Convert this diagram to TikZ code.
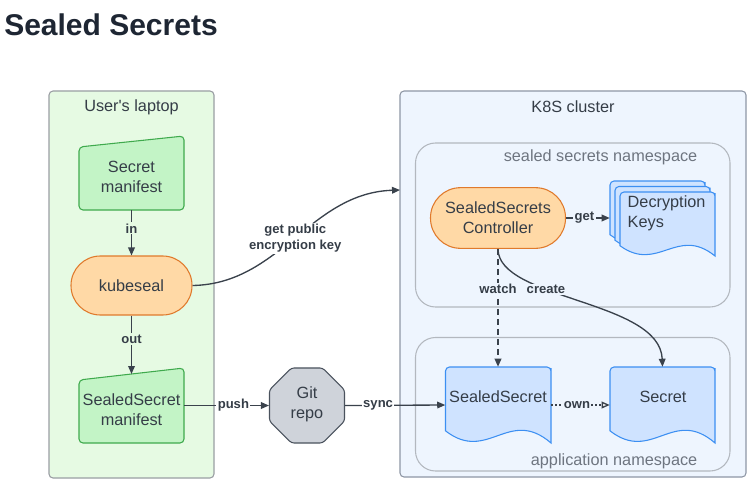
\documentclass[tikz,border=0pt]{standalone}
\usepackage{fontspec}
\setmainfont{Liberation Sans}
\usetikzlibrary{arrows.meta,shapes.geometric,fit}

\definecolor{txt}{HTML}{353D47}
\definecolor{arr}{HTML}{3A424C}
\definecolor{lapfill}{HTML}{E6FAE3}
\definecolor{lapline}{HTML}{9A9EA3}
\definecolor{grfill}{HTML}{C3F4C6}
\definecolor{grline}{HTML}{3FAA4D}
\definecolor{orfill}{HTML}{FFD9A6}
\definecolor{orline}{HTML}{E07A2C}
\definecolor{kfill}{HTML}{EEF5FE}
\definecolor{kline}{HTML}{8E97A5}
\definecolor{nsline}{HTML}{B3B8BF}
\definecolor{blfill}{HTML}{CFE3FF}
\definecolor{blline}{HTML}{3C8FF2}
\definecolor{gitfill}{HTML}{CFD3DA}
\definecolor{gitline}{HTML}{4A525D}
\definecolor{titlec}{HTML}{1E2633}
\definecolor{nstext}{HTML}{6E7580}

\newcommand{\docpath}[5]{%
  \draw[#1] ({#2},{#5-0.16*(#5-#3)}) -- ({#2},{#3+5}) [rounded corners=3pt] -- ({#2},{#3}) -- ({#4},{#3}) -- ({#4},{#3+5}) [sharp corners] -- ({#4},{#5})
   .. controls ({#2+0.6*(#4-#2)},{#5-0.48*(#5-#3)}) and ({#2+0.4*(#4-#2)},{#5+0.27*(#5-#3)}) .. ({#2},{#5-0.16*(#5-#3)}) -- cycle;}

\tikzset{
  body/.style={font=\fontsize{12.2pt}{15pt}\selectfont, text=txt, align=center},
  lbl/.style={font=\fontsize{9.8pt}{12pt}\selectfont\bfseries, text=txt, inner sep=1pt, align=center},
  conn/.style={draw=arr, line width=1pt, -{Triangle[length=6pt,width=5pt]}},
  greenbox/.style={draw=grline, fill=grfill, line width=0.8pt, rounded corners=3pt},
  bluedoc/.style={draw=blline, fill=blfill, line width=0.8pt},
  fitbox/.style={inner sep=0pt},
}

\begin{document}
\begin{tikzpicture}[x=0.75pt,y=-0.75pt]
\useasboundingbox (0,0) rectangle (748,481);
\fill[white] (0,0) rectangle (748,481);

% title
\node[anchor=west, inner sep=0pt, font=\fontsize{22.5pt}{26pt}\selectfont\bfseries, text=titlec] (title) at (4,24.5) {Sealed Secrets};

% containers
\node[fit={(49,91) (214,478)}, fitbox, draw=lapline, fill=lapfill, line width=0.8pt, rounded corners=3pt] (laptop) {};
\node[body] (laptoplbl) at (131.5,107) {User\textquotesingle s laptop};

\node[fit={(400,91) (746,477)}, fitbox, draw=kline, fill=kfill, line width=0.8pt, rounded corners=3pt] (k8s) {};
\node[body] (k8slbl) at (573,107) {K8S cluster};

\node[fit={(415.5,143) (730,307)}, fitbox, draw=nsline, line width=0.8pt, rounded corners=15pt] (ssns) {};
\node[body, text=nstext, anchor=east] (ssnslbl) at (702,157) {sealed secrets namespace};

\node[fit={(415.5,337.5) (730,471)}, fitbox, draw=nsline, line width=0.8pt, rounded corners=15pt] (appns) {};
\node[body, text=nstext, anchor=east] (appnslbl) at (702,461) {application namespace};

% Secret manifest
\draw[greenbox] (79,147) -- (184,136) -- (184,210) -- (79,210) -- cycle;
\node[fit={(79,136) (184,210)}, fitbox] (sm) {};
\node[body] (smtxt) at (131.5,177) {Secret\\manifest};

% kubeseal
\node[body, draw=orline, fill=orfill, line width=0.8pt, minimum width=90.75pt, minimum height=44.25pt, rounded corners=22pt] (kube) at (131.5,285.5) {kubeseal};

% SealedSecret manifest
\draw[greenbox] (79,380) -- (184,368) -- (184,443) -- (79,443) -- cycle;
\node[fit={(79,368) (184,443)}, fitbox] (ssm) {};
\coordinate (ssmtop) at (131.5,374);
\node[body] (ssmtxt) at (131.5,410) {SealedSecret\\manifest};

% Git repo
\node[body, regular polygon, regular polygon sides=8, minimum size=60.9pt, inner sep=0pt, draw=gitline, fill=gitfill, line width=0.8pt, rounded corners=2pt] (git) at (307,405.5) {};
\node[body] (gittxt) at (307,404) {Git\\repo};

% Controller
\node[body, draw=orline, fill=orfill, line width=0.8pt, minimum width=101.25pt, minimum height=45.5pt, rounded corners=22.5pt] (ctrl) at (498,218) {SealedSecrets\\Controller};

% Decryption keys
\docpath{bluedoc}{610}{181}{705}{245}
\docpath{bluedoc}{615}{186.5}{710}{250.5}
\docpath{bluedoc}{620}{192}{715}{256}
\node[fit={(610,181) (715,256)}, fitbox] (keys) {};
\node[body, anchor=west, align=left] (keystxt) at (623,213) {Decryption\\Keys};

% SealedSecret doc
\docpath{bluedoc}{445.5}{367}{551}{443}
\node[fit={(445.5,367) (551,443)}, fitbox] (ssd) {};
\node[body] (ssdtxt) at (498,397) {SealedSecret};

% Secret doc
\docpath{bluedoc}{610}{367}{715}{443}
\node[fit={(610,367) (715,443)}, fitbox] (sec) {};
\node[body] (sectxt) at (663,397) {Secret};

\coordinate (keyin) at (400,190);

% connectors
\draw[conn] (sm.south) -- node[lbl, fill=lapfill, pos=0.4] {in} (kube.north);
\draw[conn] (kube.south) -- node[lbl, fill=lapfill, pos=0.4] {out} (ssmtop);
\draw[conn] (ssm.east) -- node[lbl, fill=white, pos=0.58] {push} (git.west);
\draw[conn] (git.east) -- node[lbl, fill=white, pos=0.33] {sync} (ssd.west);
\draw[conn] (kube.east) .. controls (280,284) and (310,193) .. node[lbl, fill=white, pos=0.5] {get public\\encryption key} (keyin);
\draw[conn] (ctrl.east) -- node[lbl, fill=kfill, pos=0.42] {get} (ctrl.east -| keys.west);
\draw[conn, dash pattern=on 4.5pt off 3pt] (ctrl.south) -- node[lbl, fill=kfill, pos=0.34] {watch} (ctrl.south |- ssd.north);
\draw[conn] (ctrl.south) .. controls (498,300) and (660,300) .. node[lbl, fill=kfill, pos=0.36] {create} (sec.north);
\draw[draw=arr, line width=1pt, dash pattern=on 1.2pt off 1.8pt, -{Triangle[open,length=6pt,width=5pt,fill=white]}] (ssd.east) -- node[lbl, fill=kfill, pos=0.44] {own} (sec.west);
\end{tikzpicture}
\end{document}
